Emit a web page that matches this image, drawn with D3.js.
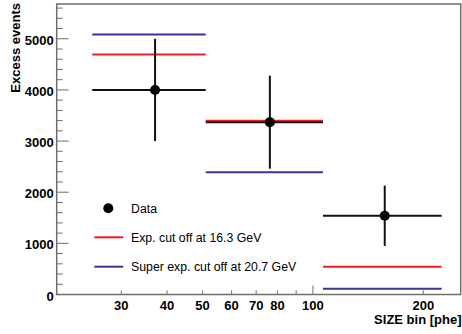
<!DOCTYPE html>
<html>
<head>
<meta charset="utf-8">
<script src="https://cdn.jsdelivr.net/npm/d3@7"></script>
<style>
body { margin: 0; background: #fff; }
text { font-family: "Liberation Sans", Arial, sans-serif; }
</style>
</head>
<body>
<script>
// bins of SIZE (phe)
var binLo = [25, 51, 106.5];
var binHi = [51, 106.5, 224.5];
var dataX = [37.1, 76.3, 157];
var dataY = [4000, 3370, 1540];
var dataErr = [1000, 910, 590];
var expCut = [4695, 3397, 543];
var superExpCut = [5086, 2389, 113];

var xTicks = [30, 40, 50, 60, 70, 80, 90, 100, 200];
var xLabels = [30, 40, 50, 60, 70, 80, 100, 200];
var yTicks = [0, 1000, 2000, 3000, 4000, 5000];

var legendLabels = ["Data", "Exp. cut off at 16.3 GeV", "Super exp. cut off at 20.7 GeV"];

var width = 462, height = 334;
var margin = {left: 56.7, right: 1.3, top: 4, bottom: 39.5};

var svg = d3.select("body").append("svg")
  .attr("width", width).attr("height", height);

var x = d3.scaleLog().domain([20, 253]).range([margin.left, width - margin.right]);
var y = d3.scaleLinear().domain([0, 5680]).range([height - margin.bottom, margin.top]);

var red = "#f01c24", blue = "#35359a";

// frame
svg.append("rect")
  .attr("x", x.range()[0]).attr("y", y.range()[1])
  .attr("width", x.range()[1] - x.range()[0])
  .attr("height", y.range()[0] - y.range()[1])
  .attr("fill", "none").attr("stroke", "#6e6e6e").attr("stroke-width", 1.5);

// y ticks (inside)
var yMinor = d3.range(0, 5700, 200);
svg.selectAll(".ymin").data(yMinor).enter().append("line")
  .attr("x1", x.range()[0]).attr("x2", function(d) { return x.range()[0] + (d % 1000 === 0 ? 12 : 6); })
  .attr("y1", function(d) { return y(d); }).attr("y2", function(d) { return y(d); })
  .attr("stroke", "#6e6e6e").attr("stroke-width", 1);

svg.selectAll(".ylab").data(yTicks).enter().append("text")
  .attr("x", x.range()[0] - 3)
  .attr("y", function(d) { return y(d) + 6; })
  .attr("text-anchor", "end")
  .attr("font-size", 13).attr("font-weight", "bold")
  .text(function(d) { return d; });

// x ticks (inside)
svg.selectAll(".xt").data(xTicks).enter().append("line")
  .attr("x1", function(d) { return x(d); }).attr("x2", function(d) { return x(d); })
  .attr("y1", y.range()[0]).attr("y2", function(d) { return y.range()[0] - (d === 100 ? 9 : 4); })
  .attr("stroke", "#6e6e6e").attr("stroke-width", 1);

svg.selectAll(".xlab").data(xLabels).enter().append("text")
  .attr("x", function(d) { return x(d); })
  .attr("y", 310)
  .attr("text-anchor", "middle")
  .attr("font-size", 13).attr("font-weight", "bold")
  .text(function(d) { return d; });

// axis titles
svg.append("text")
  .attr("x", 461.5).attr("y", 323.5)
  .attr("text-anchor", "end")
  .attr("font-size", 13).attr("font-weight", "bold")
  .text("SIZE bin [phe]");

svg.append("text")
  .attr("transform", "translate(19.5,3) rotate(-90)")
  .attr("text-anchor", "end")
  .attr("font-size", 13).attr("font-weight", "bold")
  .text("Excess events");

// model lines
function drawModel(vals, color) {
  svg.selectAll(null).data(vals).enter().append("line")
    .attr("x1", function(d, i) { return x(binLo[i]); })
    .attr("x2", function(d, i) { return x(binHi[i]); })
    .attr("y1", function(d) { return y(d); })
    .attr("y2", function(d) { return y(d); })
    .attr("stroke", color).attr("stroke-width", 2);
}
drawModel(superExpCut, blue);
drawModel(expCut, red);

// data
var pts = svg.selectAll(".pt").data(dataY).enter().append("g");
pts.append("line")
  .attr("x1", function(d, i) { return x(binLo[i]); })
  .attr("x2", function(d, i) { return x(binHi[i]); })
  .attr("y1", function(d) { return y(d); })
  .attr("y2", function(d) { return y(d); })
  .attr("stroke", "#111").attr("stroke-width", 2);
pts.append("line")
  .attr("x1", function(d, i) { return x(dataX[i]); })
  .attr("x2", function(d, i) { return x(dataX[i]); })
  .attr("y1", function(d, i) { return y(d + dataErr[i]); })
  .attr("y2", function(d, i) { return y(d - dataErr[i]); })
  .attr("stroke", "#111").attr("stroke-width", 2);
pts.append("circle")
  .attr("cx", function(d, i) { return x(dataX[i]); })
  .attr("cy", function(d) { return y(d); })
  .attr("r", 5).attr("fill", "#000");

// legend
var leg = svg.append("g");
leg.append("circle").attr("cx", 108.3).attr("cy", 208.3).attr("r", 5).attr("fill", "#000");
leg.append("line").attr("x1", 94.3).attr("x2", 123.3).attr("y1", 237.3).attr("y2", 237.3)
  .attr("stroke", red).attr("stroke-width", 2);
leg.append("line").attr("x1", 94.3).attr("x2", 123.3).attr("y1", 266.7).attr("y2", 266.7)
  .attr("stroke", blue).attr("stroke-width", 2);
leg.selectAll("text").data(legendLabels).enter().append("text")
  .attr("x", 131)
  .attr("y", function(d, i) { return 212.5 + i * 29.2; })
  .attr("font-size", 12.3)
  .text(function(d) { return d; });
</script>
</body>
</html>
